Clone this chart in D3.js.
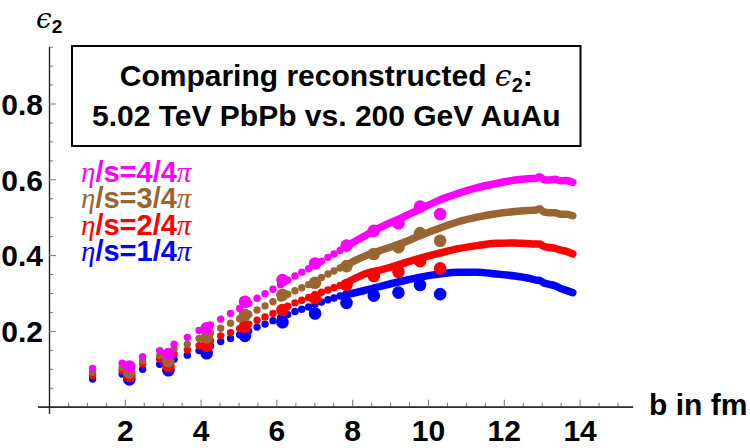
<!DOCTYPE html>
<html>
<head>
<meta charset="utf-8">
<script src="https://cdn.jsdelivr.net/npm/d3@7"></script>
<style>
  body { margin: 0; background: #fff; }
  text { font-family: "Liberation Sans", Arial, sans-serif; font-weight: bold; }
</style>
</head>
<body>
<div id="chart"></div>
<script>
// impact parameter of the simulation points (sparse part)
var bSmall = [1.15, 1.93, 2.47, 2.92, 3.30, 3.65, 3.96, 4.26, 4.53, 4.79, 5.03, 5.27, 5.49,
  5.70, 5.91, 6.11, 6.30, 6.49, 6.67, 6.85, 7.02, 7.19, 7.36, 7.52, 7.68, 7.83];
var small1 = [.073, .086, .099, .112, .125, .136, .148, .160, .172, .180, .190, .200, .210,
  .218, .227, .235, .243, .251, .257, .263, .270, .276, .282, .287, .292, .296];
var small2 = [.082, .095, .113, .126, .139, .150, .161, .174, .187, .195, .206, .218, .228,
  .237, .246, .256, .265, .274, .281, .288, .296, .302, .308, .314, .320, .326];
var small3 = [.091, .103, .121, .135, .152, .165, .180, .194, .207, .220, .232, .244, .255,
  .266, .277, .287, .297, .306, .314, .322, .332, .341, .350, .358, .366, .373];
var small4 = [.101, .115, .132, .148, .165, .183, .201, .216, .231, .246, .259, .273, .286,
  .298, .310, .322, .334, .345, .355, .364, .374, .384, .394, .403, .412, .422];

// dense part, where the points run together into a band
var bDense = [7.83, 8.3, 8.8, 9.3, 9.8, 10.3, 10.8, 11.3, 11.8, 12.3, 12.7, 12.85, 12.95,
  13.05, 13.2, 13.35, 13.5, 13.65, 13.82];
var dense1 = [.296, .306, .319, .331, .342, .350, .355, .355, .350, .345, .338, .334, .333,
  .327, .323, .319, .312, .307, .301];
var dense2 = [.326, .349, .362, .377, .392, .405, .417, .425, .431, .432, .430, .429, .429,
  .423, .420, .418, .413, .410, .403];
var dense3 = [.373, .396, .414, .431, .452, .471, .488, .500, .509, .515, .518, .519, .522,
  .514, .512, .512, .508, .508, .504];
var dense4 = [.422, .449, .476, .498, .522, .545, .563, .578, .589, .598, .602, .603, .607,
  .599, .598, .600, .596, .597, .592];

// reconstructed points (large dots)
var bBig = [2.12, 3.15, 4.16, 5.17, 6.16, 7.02, 7.85, 8.57, 9.22, 9.79, 10.32];
var big1 = [.072, .096, .141, .187, .223, .246, .274, .293, .301, .321, .297];
var big2 = [.081, .107, .161, .211, .255, .286, .321, .345, .356, .384, .365];
var big3 = [.090, .120, .183, .242, .295, .327, .371, .403, .421, .458, .438];
var big4 = [.106, .139, .207, .277, .334, .378, .425, .464, .484, .528, .508];

var labels = ["1", "2", "3", "4"];
var colors = ["#0000ff", "#ff0000", "#996633", "#ff00ff"];
var xTicks = [2, 4, 6, 8, 10, 12, 14];
var yTicks = [0.2, 0.4, 0.6, 0.8];

var series = [
  { small: small1, dense: dense1, big: big1 },
  { small: small2, dense: dense2, big: big2 },
  { small: small3, dense: dense3, big: big3 },
  { small: small4, dense: dense4, big: big4 }
];

var svgWidth = 750, svgHeight = 448;
var svg = d3.select("#chart").append("svg")
  .attr("width", svgWidth).attr("height", svgHeight);

var xScale = d3.scaleLinear().domain([0, 14]).range([49, 579.6]);
var yScale = d3.scaleLinear().domain([0, 0.8]).range([406.7, 103.5]);

// axes cross at the origin, ticks point inwards
var xAxisScale = xScale.copy().domain([-0.3, 15.4]).range([xScale(-0.3), xScale(15.4)]);
var yAxisScale = yScale.copy().domain([-0.017, 0.95]).range([yScale(-0.017), yScale(0.95)]);

var xMinor = d3.range(1, 31).map(d => d / 2).filter(d => d % 2 !== 0);
var yMinor = d3.range(1, 20).map(d => d / 20).filter(d => Math.round(d * 100) % 20 !== 0);

var gx = svg.append("g").attr("transform", `translate(0,${yScale(0)})`);
gx.call(d3.axisBottom(xAxisScale).tickValues(xMinor).tickSize(-4).tickSizeOuter(0).tickFormat(""));
gx.append("g").call(d3.axisBottom(xAxisScale).tickValues(xTicks).tickSize(-7).tickSizeOuter(0)
  .tickPadding(13).tickFormat(d3.format("d")));

var gy = svg.append("g").attr("transform", `translate(${xScale(0)},0)`);
gy.call(d3.axisLeft(yAxisScale).tickValues(yMinor).tickSize(-4).tickSizeOuter(0).tickFormat(""));
gy.append("g").call(d3.axisLeft(yAxisScale).tickValues(yTicks).tickSize(-7).tickSizeOuter(0)
  .tickPadding(6).tickFormat(d3.format(".1f")));

svg.selectAll(".domain").attr("stroke", "#222").attr("stroke-width", 1.2);
svg.selectAll(".tick line").attr("stroke", "#777");
svg.selectAll(".tick text").attr("font-size", 30).attr("fill", "#000")
  .attr("font-family", "Liberation Sans, Arial, sans-serif").attr("font-weight", "bold");
gy.selectAll(".tick text").attr("dy", "0.36em");

// axis labels
var eps = svg.append("text").attr("x", 36).attr("y", 28).attr("font-size", 28);
eps.append("tspan").attr("font-family", "DejaVu Serif").attr("font-style", "italic")
  .attr("font-weight", "normal").text("\u03f5");
eps.append("tspan").attr("font-size", 19).attr("dy", 5).text("2");

svg.append("text").attr("x", 649).attr("y", 415).attr("font-size", 30).text("b in fm");

// simulation points
var line = d3.line().x(d => xScale(d[0])).y(d => yScale(d[1])).curve(d3.curveMonotoneX);
series.forEach((s, i) => {
  var g = svg.append("g").attr("fill", colors[i]);
  g.append("path")
    .datum(bDense.map((b, j) => [b, s.dense[j]]))
    .attr("d", line).attr("fill", "none").attr("stroke", colors[i])
    .attr("stroke-width", 7.5).attr("stroke-linecap", "round").attr("stroke-linejoin", "round");
  g.selectAll("circle.small").data(bSmall).enter().append("circle")
    .attr("class", "small")
    .attr("cx", d => xScale(d)).attr("cy", (d, j) => yScale(s.small[j])).attr("r", 3.7);
  g.selectAll("circle.big").data(bBig).enter().append("circle")
    .attr("class", "big")
    .attr("cx", d => xScale(d)).attr("cy", (d, j) => yScale(s.big[j])).attr("r", 6.3);
});

// title box, sized around its text
var box = svg.append("g");
var boxRect = box.append("rect").attr("fill", "#fff").attr("stroke", "#000").attr("stroke-width", 2);
var t1 = box.append("text").attr("text-anchor", "middle").attr("font-size", 30).attr("y", 86);
t1.append("tspan").text("Comparing reconstructed ");
t1.append("tspan").attr("font-family", "DejaVu Serif").attr("font-style", "italic")
  .attr("font-weight", "normal").text("\u03f5");
t1.append("tspan").attr("font-size", 20).attr("dy", 6).text("2");
t1.append("tspan").attr("dy", -6).text(":");
var t2 = box.append("text").attr("text-anchor", "middle").attr("font-size", 30).attr("y", 126)
  .text("5.02 TeV PbPb vs. 200 GeV AuAu");
var tw = Math.max(t1.node().getComputedTextLength(), t2.node().getComputedTextLength());
var boxLeft = 72, boxW = tw + 40;
t1.attr("x", boxLeft + boxW / 2);
t2.attr("x", boxLeft + boxW / 2);
boxRect.attr("x", boxLeft).attr("y", 46).attr("width", boxW).attr("height", 100);

// legend
var legend = svg.append("g");
[3, 2, 1, 0].forEach((i, k) => {
  var t = legend.append("text").attr("x", 81).attr("y", 182 + k * 26.3)
    .attr("font-size", 29).attr("fill", colors[i]);
  t.append("tspan").attr("font-family", "Liberation Serif").attr("font-style", "italic")
    .attr("font-weight", "normal").text("\u03b7");
  t.append("tspan").text("/s=" + labels[i] + "/4");
  t.append("tspan").attr("font-family", "Liberation Serif").attr("font-style", "italic")
    .attr("font-weight", "normal").text("\u03c0");
});
</script>
</body>
</html>
